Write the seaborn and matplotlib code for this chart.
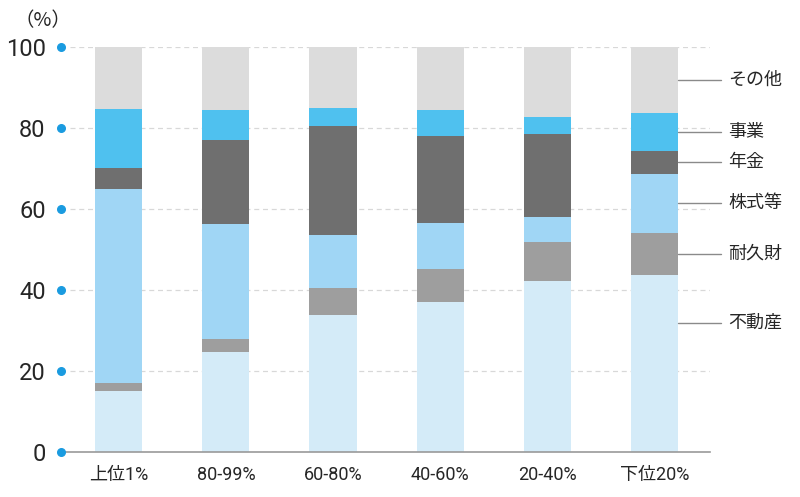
import numpy as np
import pandas as pd
import matplotlib
matplotlib.use("Agg")
import matplotlib.pyplot as plt
import seaborn as sns

# 資産構成（%）: 下から順に積み上げ
groups = ["上位1%", "80-99%", "60-80%", "40-60%", "20-40%", "下位20%"]
categories = ["不動産", "耐久財", "株式等", "年金", "事業", "その他"]
fudosan = [15.1, 24.6, 33.7, 37.1, 42.1, 43.7]
taikyuzai = [2.0, 3.4, 6.7, 8.1, 9.7, 10.4]
kabushiki = [47.8, 28.3, 13.1, 11.4, 6.2, 14.6]
nenkin = [5.1, 20.8, 27.0, 21.3, 20.4, 5.5]
jigyo = [14.7, 7.2, 4.5, 6.6, 4.2, 9.5]
sonota = [15.3, 15.7, 15.0, 15.5, 17.4, 16.3]
yticks = [0, 20, 40, 60, 80, 100]

colors = ["#d4ebf8", "#9e9e9e", "#a0d6f5", "#6f6f6f", "#4fc1ef", "#dcdcdc"]

sns.set_theme(style="white")
plt.rcParams["font.family"] = ["Noto Sans CJK JP", "DejaVu Sans"]

df = pd.DataFrame({"group": groups, "不動産": fudosan, "耐久財": taikyuzai,
                   "株式等": kabushiki, "年金": nenkin, "事業": jigyo, "その他": sonota})
cum = df[categories].cumsum(axis=1)

fig = plt.figure(figsize=(8, 4.97), dpi=100)
ax = fig.add_axes([0.07625, 0.0905, 0.81125, 0.8155])

# 上の層から描いて重ねる
for cat, col in reversed(list(zip(categories, colors))):
    sns.barplot(x=df["group"], y=cum[cat], color=col, width=0.44,
                saturation=1, ax=ax, zorder=3, linewidth=0, edgecolor=col)

ax.set_xlim(-0.54, 5.52)
ax.set_ylim(0, 100)
ax.set_xlabel("")
ax.set_ylabel("")

for s in ["top", "right", "left"]:
    ax.spines[s].set_visible(False)
ax.spines["bottom"].set_color("#9a9a9a")
ax.spines["bottom"].set_linewidth(1.2)
ax.spines["bottom"].set_zorder(4)

# グリッド（破線）
for y in yticks[1:]:
    ax.axhline(y, xmin=0.014, xmax=1, color="#d8d8d8", lw=0.9,
               ls=(0, (4, 3)), zorder=1)

# 目盛り
ax.set_yticks(yticks)
ax.set_yticklabels([str(v) for v in yticks],
                   family=["Roboto", "DejaVu Sans"], fontsize=17)
ax.tick_params(axis="y", length=0, pad=11)
ax.scatter([0] * len(yticks), yticks, s=30, color="#1a9be0", zorder=5,
           clip_on=False, transform=ax.get_yaxis_transform())
ax.tick_params(axis="x", length=0, pad=10)
ax.set_xticks(range(len(groups)))
ax.set_xticklabels(groups, fontsize=13,
                   family=["Roboto", "Noto Sans CJK JP"])

fig.text(0.018, 0.958, "（%）", fontsize=14, ha="left", va="center")

# 右側のラベル（最後の棒の各区分の中央）
last = len(groups) - 1
bottoms = [0] + list(cum.iloc[last].values[:-1])
tops = list(cum.iloc[last].values)
for i, cat in enumerate(categories):
    y = (bottoms[i] + tops[i]) / 2
    if i == 0:
        y = tops[i] * 0.73
    ax.plot([last + 0.22, last + 0.62], [y, y], color="#8a8a8a", lw=1,
            clip_on=False, zorder=4)
    ax.text(last + 0.69, y, cat, fontsize=13, ha="left", va="center")

fig.savefig("out.png", dpi=100)
